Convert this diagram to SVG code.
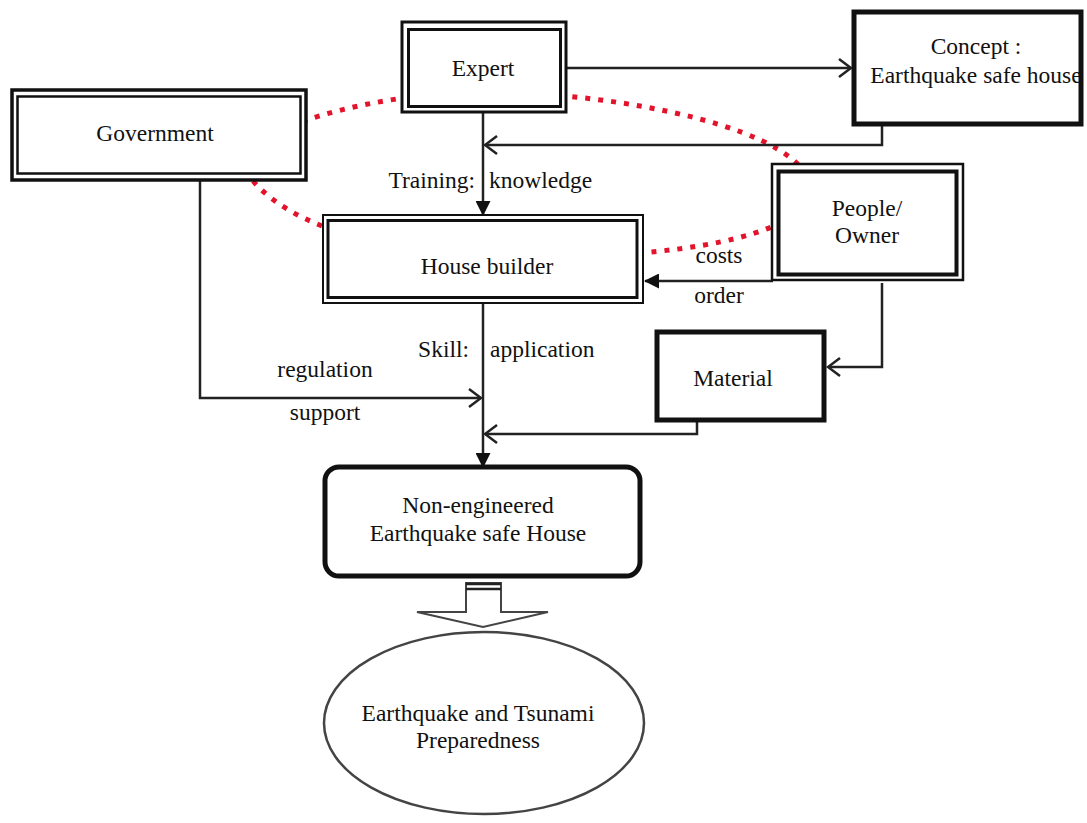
<svg xmlns="http://www.w3.org/2000/svg" width="1087" height="823" viewBox="0 0 1087 823">
<style>
  .t { font-family: "Liberation Serif", "Times New Roman", serif; font-size: 23.5px; fill: #111; }
  .m { text-anchor: middle; }
  .e { text-anchor: end; }
  .box { fill: #fff; stroke: #111; }
  .ln { fill: none; stroke: #222; stroke-width: 2.5; }
  .dots { fill: none; stroke: #e3132c; stroke-width: 5; stroke-dasharray: 5 8; }
</style>
<defs>
  <marker id="fill" markerUnits="userSpaceOnUse" markerWidth="15" markerHeight="15" viewBox="0 0 15 15" refX="14" refY="7.5" orient="auto">
    <path d="M0,0 L15,7.5 L0,15 z" fill="#111"/>
  </marker>
  <marker id="open" markerUnits="userSpaceOnUse" markerWidth="16" markerHeight="22" viewBox="0 0 16 22" refX="14" refY="11" orient="auto">
    <path d="M2,2 L14,11 L2,20" fill="none" stroke="#222" stroke-width="2.5"/>
  </marker>
</defs>
<rect width="1087" height="823" fill="#fff"/>

<path class="dots" d="M242,165 C242,128 380,92 483,92 C620,92 810,130 810,190 C810,230 700,256 560,256 C420,262 280,235 242,165 Z"/>

<g id="connectors">
  <path class="ln" d="M566,68 H851" marker-end="url(#open)"/>
  <path class="ln" d="M882,125 V145 H485" marker-end="url(#open)"/>
  <path class="ln" d="M483,112 V215" marker-end="url(#fill)"/>
  <path class="ln" d="M773,281 H645" marker-end="url(#fill)"/>
  <path class="ln" d="M882,283 V367 H828" marker-end="url(#open)"/>
  <path class="ln" d="M697,422 V434 H485" marker-end="url(#open)"/>
  <path class="ln" d="M200,180 V398 H481" marker-end="url(#open)"/>
  <path class="ln" d="M483,303 V467" marker-end="url(#fill)"/>
  <text class="t e" x="475" y="188">Training:</text>
  <text class="t" x="489" y="188">knowledge</text>
  <text class="t m" x="719" y="263">costs</text>
  <text class="t m" x="719" y="303">order</text>
  <text class="t e" x="469" y="357">Skill:</text>
  <text class="t" x="490" y="357">application</text>
  <text class="t m" x="325" y="377">regulation</text>
  <text class="t m" x="325" y="420">support</text>
</g>

<g id="expert">
  <rect class="box" x="402" y="22" width="164" height="90" stroke-width="3"/>
  <rect class="box" x="408.5" y="29.5" width="152" height="77" stroke-width="3"/>
  <text class="t m" x="483" y="76">Expert</text>
</g>

<g id="government">
  <rect class="box" x="12" y="90" width="294" height="90" stroke-width="3.5"/>
  <rect class="box" x="17.5" y="96.5" width="283" height="77" stroke-width="2.5"/>
  <text class="t m" x="155" y="141">Government</text>
</g>

<g id="concept">
  <rect class="box" x="854" y="12" width="227" height="112" stroke-width="5"/>
  <text class="t m" x="976" y="54">Concept :</text>
  <text class="t m" x="976" y="83">Earthquake safe house</text>
</g>

<g id="house-builder">
  <rect class="box" x="323" y="215" width="320" height="88" stroke-width="2"/>
  <rect class="box" x="328" y="220.5" width="309" height="77" stroke-width="3"/>
  <text class="t m" x="487" y="274">House builder</text>
</g>

<g id="people-owner">
  <rect class="box" x="772" y="164" width="191" height="116" stroke-width="2.5"/>
  <rect class="box" x="778.5" y="171.5" width="178" height="103" stroke-width="4"/>
  <text class="t m" x="867" y="216">People/</text>
  <text class="t m" x="867" y="243">Owner</text>
</g>

<g id="material">
  <rect class="box" x="657" y="332" width="167" height="88" stroke-width="5"/>
  <text class="t m" x="733" y="386">Material</text>
</g>

<g id="non-engineered">
  <rect class="box" x="325" y="467" width="315" height="109" rx="14" ry="14" stroke-width="5"/>
  <text class="t m" x="478" y="513">Non-engineered</text>
  <text class="t m" x="478" y="541">Earthquake safe House</text>
</g>

<g id="hollow-arrow">
  <path d="M466,583 H501 V612 H548 L483,627 L417,612 H466 Z" fill="#fff" stroke="#444" stroke-width="2"/>
  <path d="M466,584 H501 M466,589 H501" stroke="#222" stroke-width="2.5" fill="none"/>
</g>

<g id="preparedness">
  <ellipse cx="484" cy="723" rx="160" ry="91" fill="#fff" stroke="#444" stroke-width="2.5"/>
  <text class="t m" x="478" y="721">Earthquake and Tsunami</text>
  <text class="t m" x="478" y="748">Preparedness</text>
</g>
</svg>
